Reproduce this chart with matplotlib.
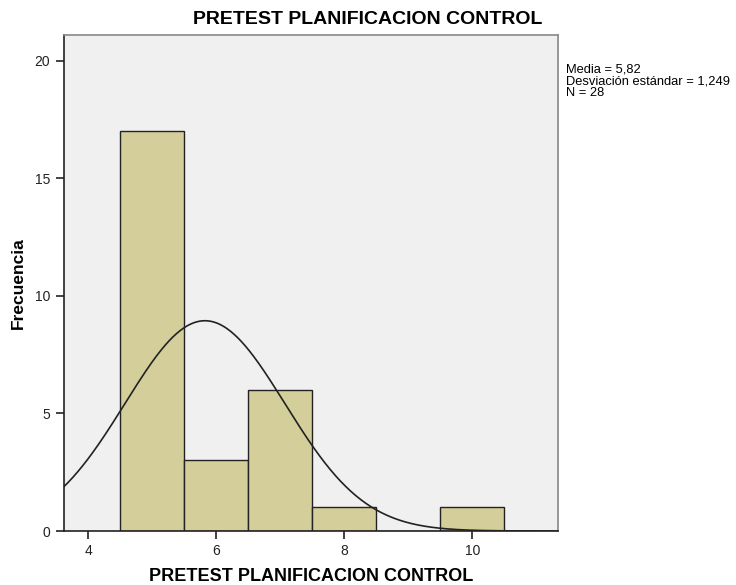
import numpy as np
import matplotlib.pyplot as plt

plt.rcParams['font.family'] = ['Liberation Sans', 'DejaVu Sans']

# Histogram data (bin centres and counts)
bin_centers = [5, 6, 7, 8, 9, 10]
counts = [17, 3, 6, 1, 0, 1]
bin_width = 1.0
media = 5.82
desv = 1.249
n = 28
x_ticks = [4, 6, 8, 10]
y_ticks = [0, 5, 10, 15, 20]

fig = plt.figure(figsize=(7.36, 5.85), dpi=100)
ax = fig.add_axes([0.0863, 0.0923, 0.672, 0.848])
ax.set_facecolor('#f0f0f0')

ax.bar(bin_centers, counts, width=bin_width, color='#d3ce9a',
       edgecolor='#222222', linewidth=1.0, zorder=2)

xs = np.linspace(3.6, 11.4, 400)
ys = n * bin_width / (desv * np.sqrt(2 * np.pi)) * np.exp(-0.5 * ((xs - media) / desv) ** 2)
ax.plot(xs, ys, color='#222222', linewidth=1.2, zorder=3)

ax.set_xlim(3.61, 11.34)
ax.set_ylim(0, 21.1)
ax.set_xticks(x_ticks)
ax.set_yticks(y_ticks)
ax.tick_params(direction='out', length=6, width=1.2, labelsize=10, colors='#222222')

ax.spines['left'].set_color('#222222')
ax.spines['bottom'].set_color('#222222')
ax.spines['top'].set_color('#888888')
ax.spines['right'].set_color('#888888')
for s in ax.spines.values():
    s.set_linewidth(1.2)

fig.text(0.5, 1 - 19 / 585, 'PRETEST PLANIFICACION CONTROL', fontsize=14,
         fontweight='bold', ha='center', va='center')
ax.set_xlabel('PRETEST PLANIFICACION CONTROL', fontsize=13, fontweight='bold', va='center')
ax.set_ylabel('Frecuencia', fontsize=12.5, fontweight='bold', va='center')
ax.xaxis.set_label_coords(0.5, -0.091)
ax.yaxis.set_label_coords(-0.092, 0.5)

fig.text(566 / 736, 1 - 63 / 585,
         'Media = 5,82\nDesviación estándar = 1,249\nN = 28',
         fontsize=9.3, va='top', ha='left', linespacing=1.0)

fig.savefig('out.png', dpi=100)
